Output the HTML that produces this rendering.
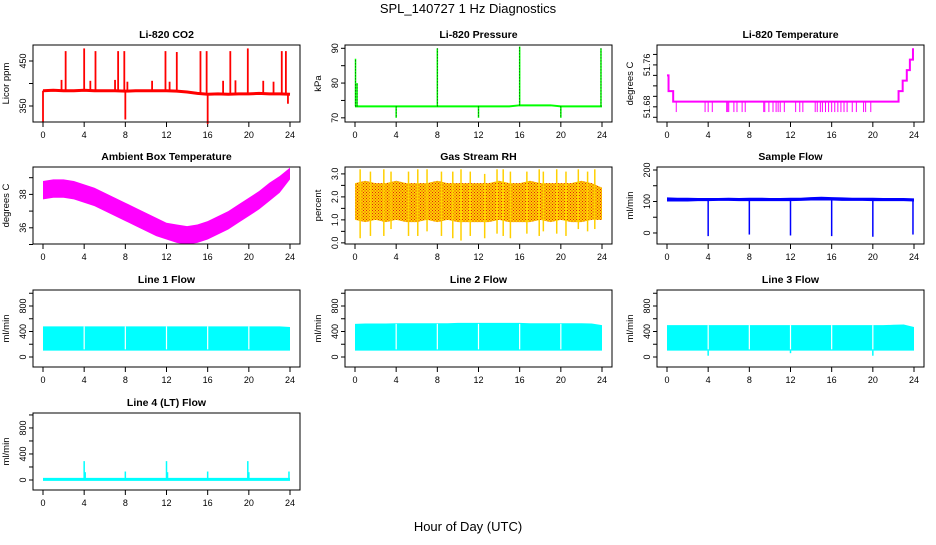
<!DOCTYPE html>
<html><head><meta charset="utf-8"><style>
body{margin:0;background:#fff;}
svg text{font-family:"Liberation Sans",sans-serif;}
</style></head><body>
<svg id="chart" width="936" height="540" xmlns="http://www.w3.org/2000/svg">
<defs>
<pattern id="rhpat" width="3" height="3" patternUnits="userSpaceOnUse">
<rect width="3" height="3" fill="#ffd000"/><rect x="0" y="0" width="1" height="1" fill="#e02010"/><rect x="1.5" y="1.5" width="1" height="1" fill="#e02010"/>
</pattern>
</defs>
<text x="468" y="13" text-anchor="middle" font-size="13">SPL_140727  1 Hz Diagnostics</text>
<text x="468" y="531" text-anchor="middle" font-size="13">Hour of Day (UTC)</text>
</svg>
<script>
// ---- data ----
const hours=[0,1,2,3,4,5,6,7,8,9,10,11,12,13,14,15,16,17,18,19,20,21,22,23,24];
const xTicks=[0,4,8,12,16,20,24];
const co2Base=[384,385,384,384,385,384,384,384,383,384,384,384,384,383,381,378,376,377,376,377,377,378,377,377,376];
const co2SpikeT=[2.2,4.0,5.1,7.3,7.9,11.9,13.0,15.3,15.9,18.2,19.9,23.2,23.6,1.8,4.6,7.0,8.2,10.6,12.3,17.5,18.7,21.4,22.4,0.0,8.0,16.0,23.8];
const co2SpikeV=[472,478,472,472,472,472,470,472,472,472,478,472,472,408,406,408,404,406,404,406,407,406,404,315,320,310,355];
const presBase=[73.3,73.3,73.3,73.3,73.3,73.3,73.3,73.3,73.3,73.3,73.3,73.3,73.3,73.3,73.3,73.3,73.6,73.6,73.6,73.6,73.3,73.3,73.3,73.3,73.3];
const presSpikeT=[0.05,8,16,23.9,4,12,20,0.2];
const presSpikeV=[87,90,90.5,90,70,70,70,80];
const tempStepT=[0,0.15,0.6,22.2,22.5,22.9,23.3,23.6,23.9,24];
const tempStepV=[51.74,51.71,51.69,51.69,51.71,51.73,51.75,51.77,51.79,51.79];
const tempDipT=[0.9,3.7,4.0,4.4,5.8,5.9,6.0,6.5,6.8,7.3,7.6,9.4,9.5,9.9,10.3,10.6,10.8,11.0,11.4,12.5,12.9,13.2,14.4,14.6,14.9,15.1,15.4,15.7,16.0,16.3,16.6,16.9,17.2,17.5,18.0,18.4,19.1,19.3,19.8];
const ambLo=[37.7,37.8,37.8,37.7,37.5,37.3,37.0,36.7,36.4,36.1,35.8,35.5,35.3,35.1,35.0,35.1,35.3,35.6,35.9,36.3,36.7,37.1,37.6,38.1,38.9];
const ambHi=[38.8,38.9,38.9,38.8,38.6,38.4,38.1,37.8,37.5,37.2,36.9,36.6,36.3,36.2,36.1,36.2,36.4,36.7,37.0,37.4,37.8,38.2,38.7,39.1,39.6];
const rhLo=[1.0,0.9,1.0,0.9,1.0,0.9,0.9,1.0,0.9,1.0,0.9,0.9,0.9,0.9,1.0,0.9,0.9,0.9,1.0,0.9,1.0,0.9,0.9,1.0,1.0];
const rhHi=[2.6,2.7,2.6,2.6,2.7,2.6,2.6,2.6,2.7,2.6,2.6,2.6,2.6,2.6,2.7,2.6,2.6,2.7,2.6,2.6,2.6,2.6,2.7,2.6,2.4];
const rhSpikeT=[0.5,1.5,2.8,3.5,5.2,6.1,7.0,8.4,9.5,10.3,11.2,12.6,13.8,14.4,15.1,16.7,17.9,18.3,19.6,20.5,21.7,22.6,23.3];
const rhSpikeLo=[0.2,0.3,0.3,0.6,0.3,0.3,0.5,0.3,0.2,0.1,0.3,0.2,0.4,0.3,0.2,0.4,0.3,0.5,0.4,0.3,0.6,0.5,0.6];
const rhSpikeHi=[3.2,3.1,3.2,3.1,3.1,3.2,3.2,3.1,3.1,3.2,3.1,3.0,3.2,3.2,3.1,3.1,3.2,3.1,3.2,3.1,3.2,3.1,3.2];
const sfLo=[100,100,100,101,101,102,102,101,101,101,101,101,101,102,103,103,103,102,102,102,101,101,101,101,100];
const sfHi=[113,112,112,111,111,111,112,111,112,112,111,111,112,112,114,115,114,113,112,112,112,111,111,111,110];
const sfDipT=[4,8,12,16,20,23.9];
const sfDipV=[-10,-5,-8,-10,-12,-5];
const l1Lo=[100,100,100,100,100,100,100,100,100,100,100,100,100,100,100,100,100,100,100,100,100,100,100,100,100];
const l1Hi=[480,480,480,480,480,480,480,480,480,480,480,480,480,480,480,480,480,480,480,480,480,480,480,480,470];
const l2Hi=[520,525,525,525,530,530,530,530,530,530,535,535,535,535,535,535,535,530,530,530,530,530,530,525,500];
const l3Hi=[500,500,500,500,500,500,500,500,500,500,500,500,500,500,500,500,500,500,500,500,500,500,505,510,470];
const gapT=[4,8,12,16,20];
const l3DipT=[4,12,20];
const l3DipV=[20,60,20];
const l4Base=[10,10,10,10,10,10,10,10,10,10,10,10,10,10,10,10,10,10,10,10,10,10,10,10,10];
const l4SpikeT=[4,4.1,8,12,12.1,16,19.9,20,23.9];
const l4SpikeV=[290,120,130,290,120,130,290,120,130];

// ---- layout ----
const NS="http://www.w3.org/2000/svg";
const svg=document.getElementById('chart');
const cols=[33,345,657], rows=[45,167,290,413], W=267, H=77;
function el(tag,attrs,parent){const e=document.createElementNS(NS,tag);for(const k in attrs)e.setAttribute(k,attrs[k]);(parent||svg).appendChild(e);return e;}
function panel(col,row,title,ylab,ymin,ymax,ticks,labels,name){
  const x0=cols[col],y0=rows[row];
  const g=el('g',{});
  
  
  const sx=h=>x0+10+h/24*(W-20);
  const sy=v=>y0+H-(v-ymin)/(ymax-ymin)*H;
  const t=el('text',{x:x0+W/2,y:y0-7,'text-anchor':'middle','font-size':10.5,'font-weight':'bold'},g);t.textContent=title;
  
  
  const yl=el('text',{transform:`translate(${x0-24},${y0+H/2}) rotate(-90)`,'text-anchor':'middle','font-size':9.5},g);yl.textContent=ylab;
  
  
  ticks.forEach((v,i)=>{const y=sy(v);el('line',{x1:x0-4,x2:x0,y1:y,y2:y,stroke:'#000'},g);
    if(labels[i]!==''){const tl=el('text',{transform:`translate(${x0-7},${y}) rotate(-90)`,'text-anchor':'middle','font-size':9},g);tl.textContent=labels[i];
    
    }});
  xTicks.forEach(h=>{const x=sx(h);el('line',{x1:x,x2:x,y1:y0+H,y2:y0+H+5,stroke:'#000'},g);
    const tl=el('text',{x:x,y:y0+H+16,'text-anchor':'middle','font-size':9},g);tl.textContent=h;
    
    });
  const plot=el('g',{},g);
  el('rect',{x:x0,y:y0,width:W,height:H,fill:'none',stroke:'#000'},g);
  return {sx,sy,g:plot};
}
function band(p,lo,hi,fill){const pts=hours.map((h,i)=>p.sx(h)+','+p.sy(hi[i])).concat(hours.slice().reverse().map((h,i)=>p.sx(h)+','+p.sy(lo[hours.length-1-i])));
  const e=el('polygon',{points:pts.join(' '),fill:fill},p.g);
  
  return e;}
function line(p,vals,color,w){const e=el('polyline',{points:hours.map((h,i)=>p.sx(h)+','+p.sy(vals[i])).join(' '),fill:'none',stroke:color,'stroke-width':w},p.g);
  
  return e;}
function spikes(p,T,V,base,color,w,dash){T.forEach((t,i)=>{const b=Array.isArray(base)?base[i]:base;const e=el('line',{x1:p.sx(t),x2:p.sx(t),y1:p.sy(b),y2:p.sy(V[i]),stroke:color,'stroke-width':w},p.g);
  if(dash)e.setAttribute('stroke-dasharray',dash);
  
  });}

// CO2
let p=panel(0,0,'Li-820 CO2','Licor ppm',314.4,485.6,[350,400,450],['350','','450'],'co2');
line(p,co2Base,'#ff0000',3);
spikes(p,co2SpikeT,co2SpikeV,co2SpikeT.map(t=>co2Base[Math.round(t)]),'#ff0000',1.8);
// Pressure
p=panel(1,0,'Li-820 Pressure','kPa',68.8,90.95,[70,75,80,85,90],['70','','80','','90'],'pressure');
line(p,presBase,'#00ff00',2);
spikes(p,presSpikeT,presSpikeV,presSpikeT.map(t=>presBase[Math.round(t)]),'#00ff00',1.5);
spikes(p,presSpikeT,presSpikeV,presSpikeT.map(t=>presBase[Math.round(t)]),'#000',0.7,'1 2');
// Temperature
p=panel(2,0,'Li-820 Temperature','degrees C',51.651,51.798,[51.66,51.68,51.70,51.72,51.74,51.76,51.78],['','51.68','','','','51.76',''],'licor-temperature');
{let pts=[];tempStepT.forEach((t,i)=>{if(i>0)pts.push(p.sx(t)+','+p.sy(tempStepV[i-1]));pts.push(p.sx(t)+','+p.sy(tempStepV[i]));});
 const e=el('polyline',{points:pts.join(' '),fill:'none',stroke:'#ff00ff','stroke-width':2},p.g);
 
 }
spikes(p,tempDipT,tempDipT.map(()=>51.67),51.69,'#ff00ff',1);
// Ambient
p=panel(0,1,'Ambient Box Temperature','degrees C',35.03,39.64,[35,36,37,38,39],['','36','','38',''],'ambient-temperature');
band(p,ambLo,ambHi,'#ff00ff');
// RH
p=panel(1,1,'Gas Stream RH','percent',-0.05,3.3,[0,0.5,1,1.5,2,2.5,3],['0.0','','1.0','','2.0','','3.0'],'rh');
band(p,rhLo,rhHi,'url(#rhpat)');
spikes(p,rhSpikeT,rhSpikeHi,rhSpikeLo,'#ffd000',1.5);
// Sample flow
p=panel(2,1,'Sample Flow','ml/min',-35,209.5,[0,50,100,150,200],['0','','100','','200'],'sample-flow');
band(p,sfLo,sfHi,'#0000ff');
spikes(p,sfDipT,sfDipV,105,'#0000ff',1.5);
// Line flows
const lt=[0,200,400,600,800,1000], ll=['0','','400','','800',''];
p=panel(0,2,'Line 1 Flow','ml/min',-157,1051,lt,ll,'line1-flow');
band(p,l1Lo,l1Hi,'#00ffff');spikes(p,gapT,gapT.map(()=>l1Hi[0]),120,'#fff',1.2);
p=panel(1,2,'Line 2 Flow','ml/min',-157,1051,lt,ll,'line2-flow');
band(p,l1Lo,l2Hi,'#00ffff');spikes(p,gapT,gapT.map(()=>l2Hi[0]),120,'#fff',1.2);
p=panel(2,2,'Line 3 Flow','ml/min',-157,1051,lt,ll,'line3-flow');
band(p,l1Lo,l3Hi,'#00ffff');spikes(p,gapT,gapT.map(()=>l3Hi[0]),120,'#fff',1.2);spikes(p,l3DipT,l3DipV,100,'#00ffff',1.5);
p=panel(0,3,'Line 4 (LT) Flow','ml/min',-154,1030,lt,ll,'line4-flow');
line(p,l4Base,'#00ffff',3);spikes(p,l4SpikeT,l4SpikeV,10,'#00ffff',1.5);
</script>
</body></html>
